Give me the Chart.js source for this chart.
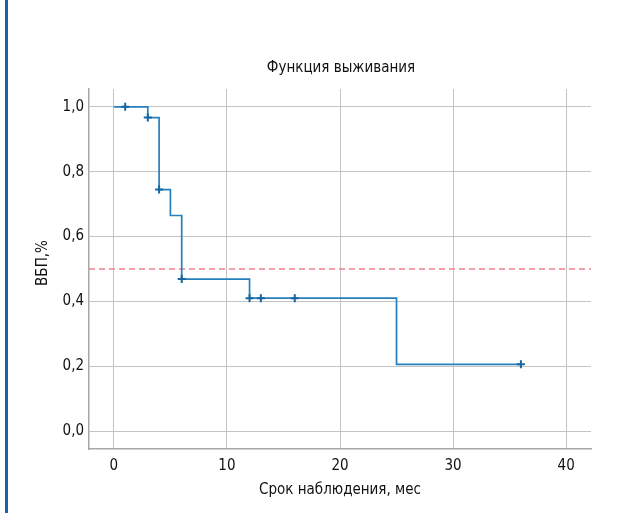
<!DOCTYPE html>
<html><head><meta charset="utf-8">
<script src="https://cdn.jsdelivr.net/npm/chart.js@4/dist/chart.umd.min.js"></script>
<style>
html,body{margin:0;padding:0;background:#fff;}
#wrap{position:relative;width:630px;height:513px;}
#bar{position:absolute;left:5px;top:0;width:3px;height:513px;background:#1d5fae;}
canvas{position:absolute;left:0;top:0;}
</style></head>
<body><div id="wrap"><canvas id="c" width="630" height="513"></canvas><div id="bar"></div></div>
<script>
// Kaplan–Meier step points (time in months, survival)
const stepTimes = [0, 3, 4, 5, 6, 12, 25, 36];
const stepSurv  = [1.0, 0.967, 0.745, 0.665, 0.469, 0.41, 0.206, 0.206];
// censored observations
const censorTimes = [1, 3, 4, 6, 12, 13, 16, 36];
const medianLine = 0.5;
const xTicks = [0, 10, 20, 30, 40];
const yTicks = [0, 0.2, 0.4, 0.6, 0.8, 1.0];
const titleText = 'Функция выживания';
const xTitle = 'Срок наблюдения, мес';
const yTitle = 'ВБП,%';

const xMin = -2.2, xMax = 42.2, yMin = -0.055, yMax = 1.055;

function survAt(t){ let s = stepSurv[0]; for (let i=0;i<stepTimes.length;i++){ if (stepTimes[i] <= t) s = stepSurv[i]; } return s; }

const FONT = "'Liberation Sans Narrow','DejaVu Sans Condensed','Roboto Condensed',sans-serif";

const textPlugin = {
  id: 'texts',
  afterDraw(chart){
    const {ctx, chartArea} = chart;
    ctx.save();
    ctx.font = '15px ' + FONT;
    ctx.fillStyle = '#111';
    ctx.textAlign = 'center';
    ctx.textBaseline = 'middle';
    ctx.fillText(titleText, (chartArea.left + chartArea.right)/2 + 1, 68);
    ctx.translate(43, 263);
    ctx.rotate(-Math.PI/2);
    ctx.fillText(yTitle, 0, 0);
    ctx.restore();
  }
};

new Chart(document.getElementById('c'), {
  type: 'scatter',
  data: {
    datasets: [
      {
        type: 'line',
        data: stepTimes.map((t,i)=>({x:t, y:stepSurv[i]})),
        stepped: 'before',
        borderColor: '#2580bd',
        borderWidth: 1.7,
        pointRadius: 0,
        fill: false,
        order: 2
      },
      {
        type: 'scatter',
        data: censorTimes.map(t=>({x:t, y:survAt(t)})),
        pointStyle: 'cross',
        pointRadius: 4,
        borderWidth: 2,
        borderColor: '#17669f',
        backgroundColor: '#17669f',
        order: 1
      },
      {
        type: 'line',
        data: [{x:xMin, y:medianLine},{x:xMax, y:medianLine}],
        borderColor: '#f2808f',
        borderWidth: 1.5,
        borderDash: [6,4],
        pointRadius: 0,
        order: 3
      }
    ]
  },
  options: {
    responsive: false,
    animation: false,
    layout: { padding: { top: 89, right: 39, left: 0, bottom: 0 } },
    plugins: { legend: {display:false}, tooltip: {enabled:false}, title: {display:false} },
    scales: {
      x: {
        type: 'linear', min: xMin, max: xMax,
        afterBuildTicks(s){ s.ticks = xTicks.map(v=>({value:v})); },
        afterFit(s){ s.height = 64; },
        grid: { color: '#c4c4c4', lineWidth: 1, drawTicks: false },
        border: { color: '#a8a8a8', width: 1.5 },
        ticks: { padding: 8, color: '#111', font: { family: FONT, size: 15 }, callback: v => String(v) },
        title: { display: true, text: xTitle, color: '#111', font: { family: FONT, size: 15 }, padding: { bottom: 14, top: 0 } }
      },
      y: {
        type: 'linear', min: yMin, max: yMax,
        afterBuildTicks(s){ s.ticks = yTicks.map(v=>({value:v})); },
        afterFit(s){ s.width = 89; },
        grid: { color: '#c4c4c4', lineWidth: 1, drawTicks: false },
        border: { color: '#a8a8a8', width: 1.5 },
        ticks: { padding: 5, color: '#111', font: { family: FONT, size: 15 }, callback: v => v.toFixed(1).replace('.', ',') },
        title: { display: false }
      }
    }
  },
  plugins: [textPlugin]
});
</script>
</body></html>
